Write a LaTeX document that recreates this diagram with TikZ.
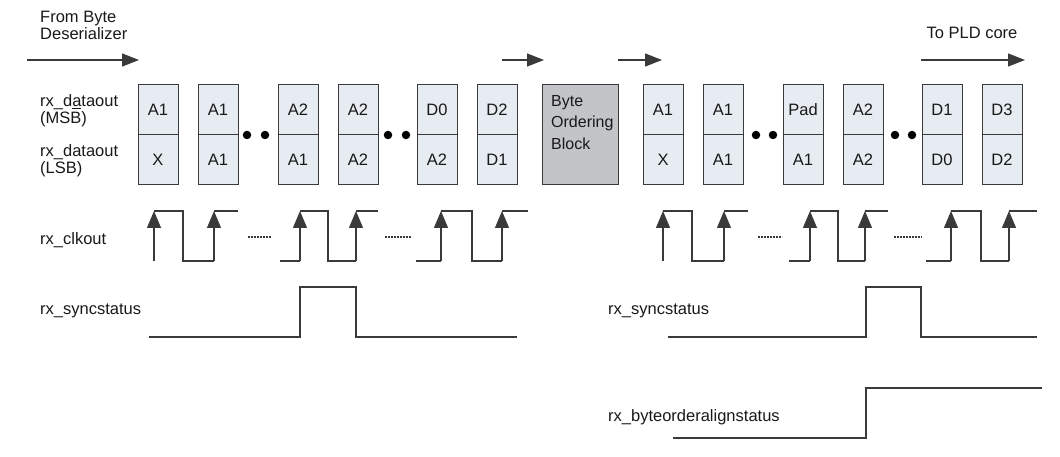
\documentclass[tikz,border=0pt]{standalone}
\usepackage{fontspec}
\setmainfont{Liberation Sans}
\usetikzlibrary{arrows.meta}
\definecolor{ln}{HTML}{3A3A3A}
\definecolor{cellfill}{HTML}{E6ECF1}
\definecolor{blockfill}{HTML}{C2C4C8}
\tikzset{
  every node/.style={font=\fontsize{16.5}{17}\selectfont, text=black!90, inner sep=0pt},
  cell/.style={draw=ln, line width=1pt, fill=cellfill, minimum width=40pt, minimum height=50pt},
  bigblock/.style={draw=ln, line width=1pt, fill=blockfill, minimum width=76pt, minimum height=100pt},
  flow/.style={draw=ln, line width=1.2pt, -{Triangle[length=17pt,width=13pt]}},
  wave/.style={draw=ln, line width=1.2pt},
  edge/.style={draw=ln, line width=1.2pt, -{Triangle[length=17pt,width=14pt]}},
  gap/.style={draw=ln, line width=2pt, dash pattern=on 2pt off 1pt},
  dotmark/.style={circle, fill=black, minimum size=8.5pt},
  lbl/.style={anchor=west, align=left}
}
\begin{document}
\begin{tikzpicture}[x=1pt, y=-1pt]
\useasboundingbox (0,0) rectangle (1060,457);

% labels
\node[lbl] (from) at (40,25) {From Byte\\Deserializer};
\node (topld) at (972,33) {To PLD core};
\node[lbl] (msb) at (40,111) {rx\_d\underline{a}taout\\(MSB)};
\node[lbl] (lsb) at (40,161) {rx\_dataout\\(LSB)};
\node[lbl] (clk) at (40,240) {rx\_clkout};
\node[lbl] (sync1) at (40,311) {rx\_syncstatus};
\node[lbl] (sync2) at (608,311) {rx\_syncstatus};
\node[lbl] (bo) at (608,417) {rx\_byteorderalignstatus};

% flow arrows
\coordinate (f1a) at (27,60);  \coordinate (f1b) at (139,60);
\coordinate (f2a) at (502,60); \coordinate (f2b) at (544,60);
\coordinate (f3a) at (618,60); \coordinate (f3b) at (662,60);
\coordinate (f4a) at (921,60); \coordinate (f4b) at (1025,60);
\draw[flow] (f1a) -- (f1b);
\draw[flow] (f2a) -- (f2b);
\draw[flow] (f3a) -- (f3b);
\draw[flow] (f4a) -- (f4b);

% cells (x = centre)
\foreach \n/\x/\t/\b in {c1/158/A1/X, c2/218/A1/A1, c3/298/A2/A1, c4/358/A2/A2,
  c5/437/D0/A2, c6/497/D2/D1, c7/663/A1/X, c8/723/A1/A1, c9/803/Pad/A1,
  c10/863/A2/A2, c11/942/D1/D0, c12/1002/D3/D2}{
  \node[cell] (\n t) at (\x,110) {\t};
  \node[cell] (\n b) at (\x,160) {\b};
}
\node[bigblock] (block) at (580,135) {};
\node[anchor=north west, align=left, font=\fontsize{16}{21.5}\selectfont] (blocktext) at (551,95) {Byte\\Ordering\\Block};

% dots
\foreach \n/\x in {d1/247, d2/265, d3/388, d4/406, d5/756, d6/773, d7/895, d8/912}{
  \node[dotmark] (\n) at (\x,135) {};
}

% left clock
\draw[edge] (154,261) -- (154,211);
\draw[wave] (154,211) -- (183,211) -- (183,261) -- (214,261);
\draw[edge] (214,261) -- (214,211);
\draw[wave] (214,211) -- (238,211);
\draw[gap] (248,237) -- (272,237);
\draw[wave] (280,261) -- (300,261);
\draw[edge] (300,261) -- (300,211);
\draw[wave] (300,211) -- (328,211) -- (328,261) -- (356,261);
\draw[edge] (356,261) -- (356,211);
\draw[wave] (356,211) -- (378,211);
\draw[gap] (385,237) -- (412,237);
\draw[wave] (416,261) -- (441,261);
\draw[edge] (441,261) -- (441,211);
\draw[wave] (441,211) -- (472,211) -- (472,261) -- (502,261);
\draw[edge] (502,261) -- (502,211);
\draw[wave] (502,211) -- (528,211);

% right clock
\draw[edge] (663,261) -- (663,211);
\draw[wave] (663,211) -- (692,211) -- (692,261) -- (724,261);
\draw[edge] (724,261) -- (724,211);
\draw[wave] (724,211) -- (748,211);
\draw[gap] (758,237) -- (782,237);
\draw[wave] (789,261) -- (810,261);
\draw[edge] (810,261) -- (810,211);
\draw[wave] (810,211) -- (838,211) -- (838,261) -- (865,261);
\draw[edge] (865,261) -- (865,211);
\draw[wave] (865,211) -- (888,211);
\draw[gap] (894,237) -- (922,237);
\draw[wave] (926,261) -- (951,261);
\draw[edge] (951,261) -- (951,211);
\draw[wave] (951,211) -- (981,211) -- (981,261) -- (1009,261);
\draw[edge] (1009,261) -- (1009,211);
\draw[wave] (1009,211) -- (1037,211);

% sync status
\draw[wave] (149,337) -- (300,337) -- (300,287) -- (356,287) -- (356,337) -- (517,337);
\draw[wave] (668,337) -- (866,337) -- (866,287) -- (921,287) -- (921,337) -- (1037,337);

% byte order align status
\draw[wave] (673,438) -- (866,438) -- (866,388) -- (1042,388);
\end{tikzpicture}
\end{document}
